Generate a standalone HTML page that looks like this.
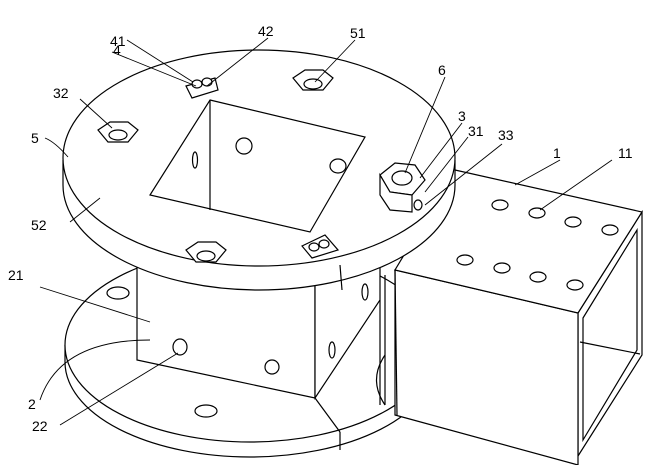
<!DOCTYPE html>
<html><head><meta charset="utf-8"><style>
html,body{margin:0;padding:0;background:#fff;}
svg{display:block;}
text{font-family:"Liberation Sans",sans-serif;font-size:14px;fill:#000;}
</style></head><body>
<svg width="648" height="465" viewBox="0 0 648 465" xmlns="http://www.w3.org/2000/svg" fill="none" stroke="#000" stroke-width="1.2">
<!-- bottom disk -->
<path d="M65,345 L65,362 A185,95 0 0 0 435,362 L435,345" fill="#fff"/>
<ellipse cx="250" cy="345" rx="185" ry="97" fill="#fff"/>
<line x1="340" y1="432" x2="340" y2="450"/>
<!-- central square tube -->
<polygon points="137,255 315,275 315,398 137,360" fill="#fff"/>
<polygon points="315,275 380,255 380,300 315,398" fill="#fff"/>
<line x1="380" y1="300" x2="380" y2="405"/>
<line x1="315" y1="398" x2="340" y2="432"/>
<!-- right rectangular tube -->
<polygon points="578,313 642,212 642,355 578,456" fill="#fff"/>
<polygon points="583,318 637,230 637,350 583,440" fill="#fff"/>
<line x1="580" y1="342" x2="640" y2="354"/>
<polygon points="395,270 578,313 578,465 395,415" fill="#fff"/>
<polygon points="455,170 642,212 578,313 395,270" fill="#fff"/>
<line x1="385" y1="275" x2="385" y2="405"/>
<line x1="395" y1="270" x2="397" y2="415"/>
<path d="M385,355 Q368,380 385,405"/>
<!-- top disk -->
<path d="M63,160 L63,185 A196,105 0 0 0 455,185 L455,160" fill="#fff"/>
<ellipse cx="259" cy="158" rx="196" ry="108" fill="#fff"/>
<line x1="340" y1="265" x2="342" y2="290"/>
<!-- square opening -->
<polygon points="210,100 365,137 310,232 150,195" fill="#fff"/>
<line x1="210" y1="100" x2="210" y2="210"/>
<ellipse cx="244" cy="146" rx="8" ry="8"/>
<ellipse cx="338" cy="166" rx="8" ry="7"/>
<ellipse cx="195" cy="160" rx="2.5" ry="8"/>
<!-- bolts on top -->
<g fill="#fff">
<polygon points="98,130 110,122 128,122 138,130 128,142 108,142"/>
<ellipse cx="118" cy="135" rx="9" ry="5"/>
<polygon points="293,78 305,70 323,70 333,78 323,90 303,90"/>
<ellipse cx="313" cy="84" rx="9" ry="5"/>
<polygon points="186,250 198,242 216,242 226,250 216,262 196,262"/>
<ellipse cx="206" cy="256" rx="9" ry="5"/>
<polygon points="186,86 215,78 218,90 192,98"/>
<ellipse cx="197" cy="84" rx="5" ry="4"/><ellipse cx="207" cy="82" rx="5" ry="4"/>
<polygon points="302,246 325,235 338,250 312,258"/>
<ellipse cx="314" cy="247" rx="5" ry="4"/><ellipse cx="324" cy="244" rx="5" ry="4"/>
<polygon points="380,175 395,163 415,165 425,180 412,195 390,192"/>
<polygon points="380,175 380,195 390,210 412,212 412,195 390,192"/>
<ellipse cx="402" cy="178" rx="10" ry="7"/>
<ellipse cx="418" cy="205" rx="4" ry="5"/>
</g>
<!-- bottom disk holes -->
<ellipse cx="118" cy="293" rx="11" ry="6"/>
<ellipse cx="206" cy="411" rx="11" ry="6"/>
<!-- central tube holes -->
<ellipse cx="180" cy="347" rx="7" ry="8"/>
<ellipse cx="272" cy="367" rx="7" ry="7"/>
<ellipse cx="332" cy="350" rx="3" ry="8"/>
<ellipse cx="365" cy="292" rx="3" ry="8"/>
<!-- right tube holes -->
<g>
<ellipse cx="500" cy="205" rx="8" ry="5"/><ellipse cx="537" cy="213" rx="8" ry="5"/>
<ellipse cx="573" cy="222" rx="8" ry="5"/><ellipse cx="610" cy="230" rx="8" ry="5"/>
<ellipse cx="465" cy="260" rx="8" ry="5"/><ellipse cx="502" cy="268" rx="8" ry="5"/>
<ellipse cx="538" cy="277" rx="8" ry="5"/><ellipse cx="575" cy="285" rx="8" ry="5"/>
</g>
<!-- leader lines -->
<g stroke-width="0.9">
<line x1="127" y1="40" x2="193" y2="82"/>
<line x1="112" y1="52" x2="196" y2="86"/>
<line x1="268" y1="38" x2="207" y2="86"/>
<line x1="355" y1="40" x2="315" y2="82"/>
<line x1="80" y1="99" x2="112" y2="128"/>
<path d="M45,138 Q55,142 68,157"/>
<line x1="70" y1="222" x2="100" y2="198"/>
<line x1="445" y1="77" x2="405" y2="173"/>
<line x1="462" y1="123" x2="420" y2="178"/>
<line x1="468" y1="137" x2="425" y2="192"/>
<line x1="502" y1="144" x2="425" y2="205"/>
<line x1="560" y1="160" x2="515" y2="185"/>
<line x1="612" y1="160" x2="540" y2="210"/>
<line x1="40" y1="287" x2="150" y2="322"/>
<path d="M40,400 Q60,340 150,340"/>
<line x1="60" y1="425" x2="178" y2="353"/>
</g>
<g stroke="none">
<text x="110" y="46">41</text>
<text x="113" y="55">4</text>
<text x="258" y="36">42</text>
<text x="350" y="38">51</text>
<text x="53" y="98">32</text>
<text x="31" y="143">5</text>
<text x="31" y="230">52</text>
<text x="438" y="75">6</text>
<text x="458" y="121">3</text>
<text x="468" y="136">31</text>
<text x="498" y="140">33</text>
<text x="553" y="158">1</text>
<text x="618" y="158">11</text>
<text x="8" y="280">21</text>
<text x="28" y="409">2</text>
<text x="32" y="431">22</text>
</g>
</svg>
</body></html>
